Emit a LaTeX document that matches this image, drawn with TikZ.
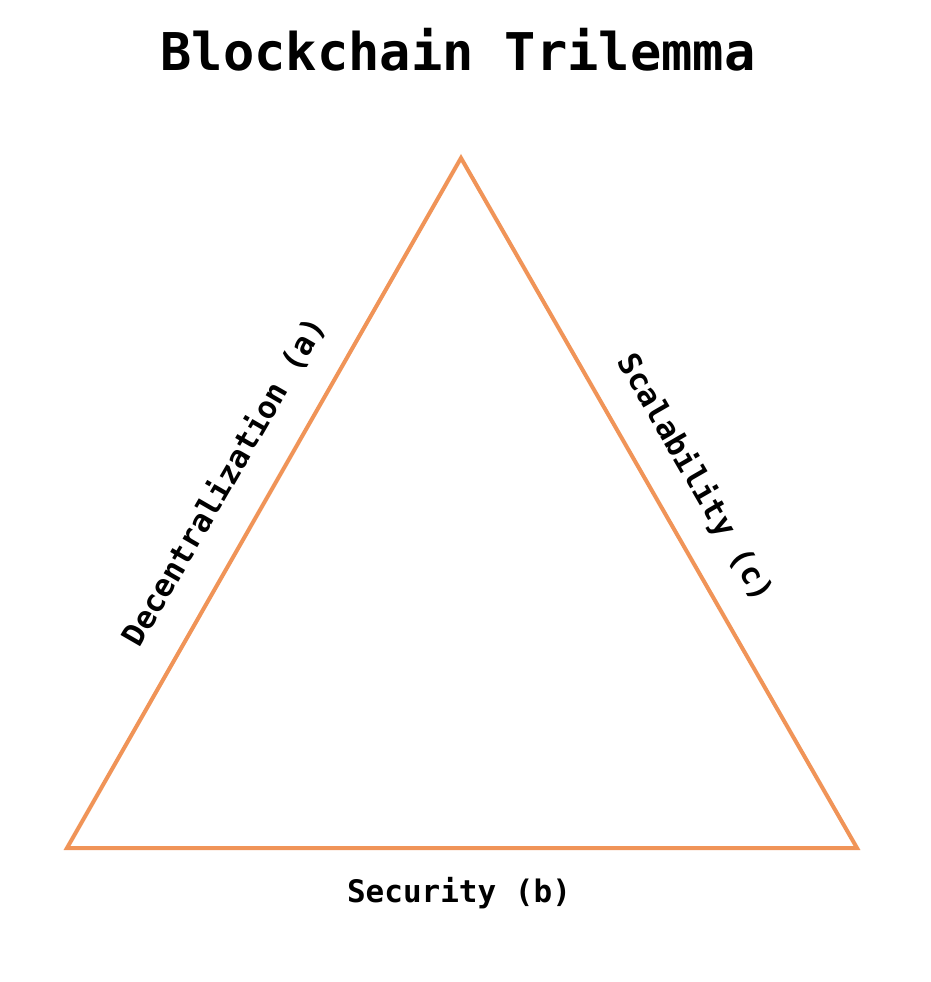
\documentclass[tikz,border=0pt]{standalone}
\usepackage{fontspec}
\setmonofont{DejaVu Sans Mono}
\definecolor{triorange}{RGB}{240,148,88}
\begin{document}
\begin{tikzpicture}[x=1pt,y=-1pt,
  edge/.style={draw=triorange,line width=4pt,line join=miter},
  titletext/.style={font=\ttfamily\bfseries\fontsize{52}{60}\selectfont,inner sep=0pt},
  sidelabel/.style={font=\ttfamily\bfseries\fontsize{31}{36}\selectfont,inner sep=0pt}]
\useasboundingbox[fill=white] (0,0) rectangle (931,982);
\coordinate (top) at (461,158);
\coordinate (bl) at (67,848);
\coordinate (br) at (857,848);
\draw[edge] (top) -- (bl) -- (br) -- cycle;
\node[titletext] (title) at (458,50) {Blockchain Trilemma};
\node[sidelabel,rotate=60] (dec) at (224,482) {Decentralization (a)};
\node[sidelabel,rotate=-60] (sca) at (695,478) {Scalability (c)};
\node[sidelabel] (sec) at (459,893) {Security (b)};
\end{tikzpicture}
\end{document}
